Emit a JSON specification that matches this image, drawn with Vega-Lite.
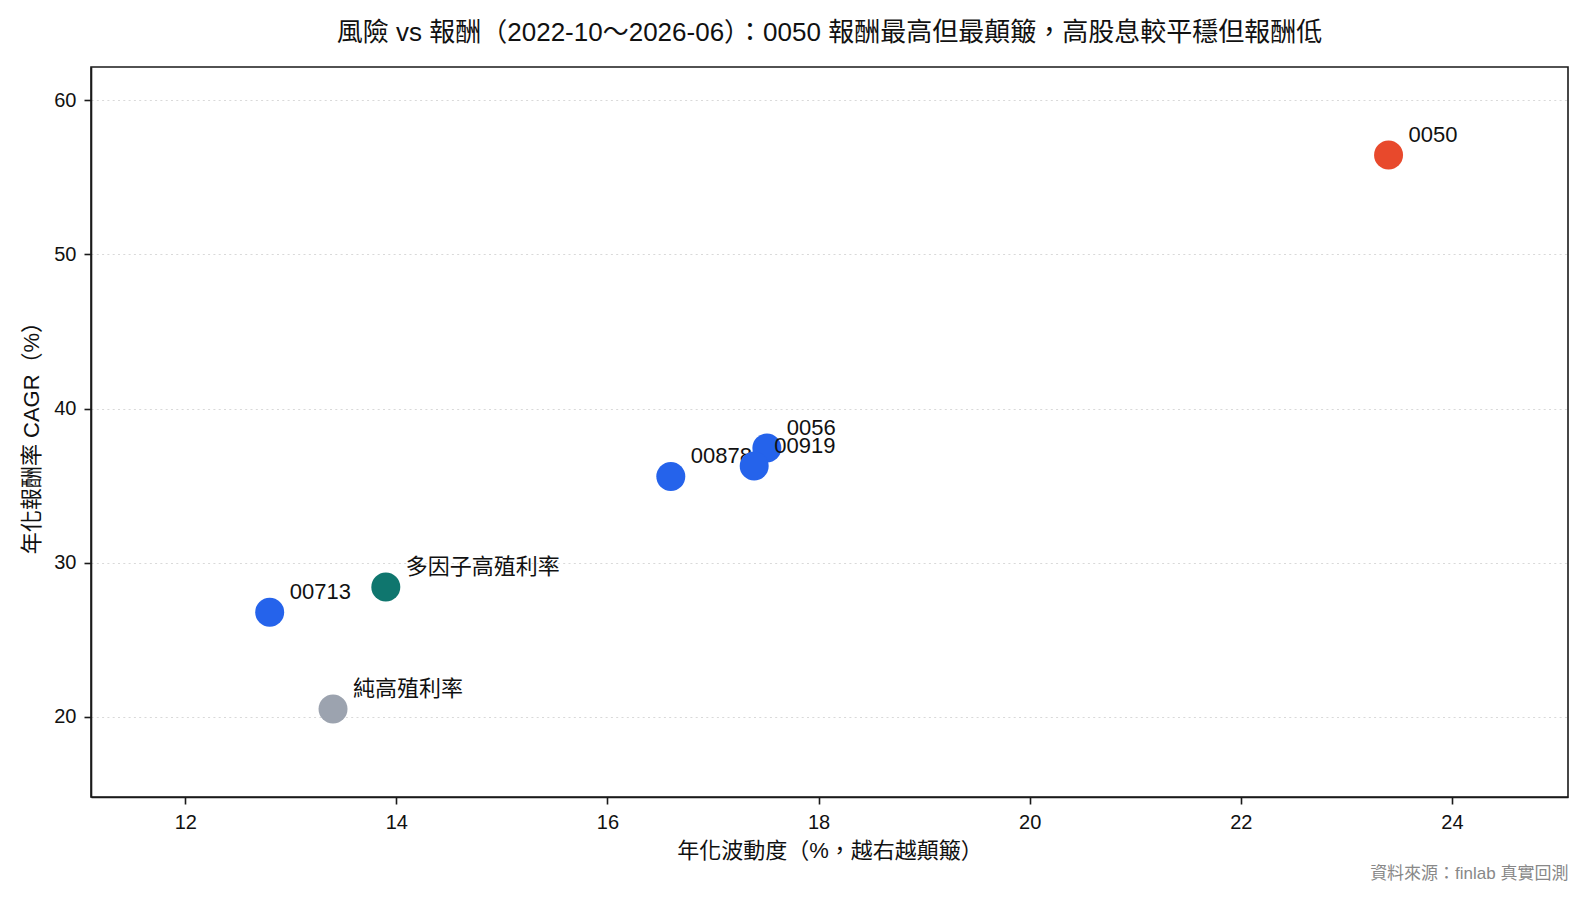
{
  "$schema": "https://vega.github.io/schema/vega-lite/v6.json",
  "description": "Risk vs return scatter, 2022-10 to 2026-06",
  "width": 1477,
  "height": 730,
  "autosize": {"type": "none"},
  "padding": {"left": 91, "top": 67, "right": 24, "bottom": 102},
  "background": "white",
  "title": {
    "text": "風險 vs 報酬（2022-10～2026-06）：0050 報酬最高但最顛簸，高股息較平穩但報酬低",
    "font": "Liberation Sans, Noto Sans CJK TC",
    "fontSize": 26,
    "fontWeight": "normal",
    "color": "#111",
    "anchor": "middle",
    "offset": 21
  },
  "config": {
    "view": {"stroke": "#1a1a1a", "strokeWidth": 1.6},
    "font": "Liberation Sans, Noto Sans CJK TC",
    "axis": {
      "labelFont": "Liberation Sans, Noto Sans CJK TC",
      "titleFont": "Liberation Sans, Noto Sans CJK TC",
      "labelFontSize": 20,
      "titleFontSize": 22,
      "titleFontWeight": "normal",
      "labelColor": "#111",
      "titleColor": "#111",
      "domainColor": "#1a1a1a",
      "domainWidth": 1.6,
      "tickColor": "#1a1a1a",
      "tickWidth": 1.6,
      "tickSize": 7,
      "labelPadding": 8,
      "gridColor": "#d9d9d9",
      "gridDash": [2, 3.3],
      "gridWidth": 1
    }
  },
  "data": {
    "values": [
      {"name": "0050", "kind": "benchmark", "vol": 23.40, "cagr": 56.45},
      {"name": "0056", "kind": "etf", "vol": 17.51, "cagr": 37.45},
      {"name": "00878", "kind": "etf", "vol": 16.60, "cagr": 35.60},
      {"name": "00919", "kind": "etf", "vol": 17.39, "cagr": 36.28},
      {"name": "00713", "kind": "etf", "vol": 12.80, "cagr": 26.80},
      {"name": "多因子高殖利率", "kind": "multi", "vol": 13.90, "cagr": 28.43},
      {"name": "純高殖利率", "kind": "pure", "vol": 13.40, "cagr": 20.52}
    ]
  },
  "encoding": {
    "y": {
      "field": "cagr",
      "type": "quantitative",
      "scale": {"domain": [14.81, 62.16], "nice": false, "zero": false},
      "axis": {
        "title": "年化報酬率 CAGR（%）",
        "values": [20, 30, 40, 50, 60],
        "titlePadding": 10
      }
    }
  },
  "layer": [
    {
      "transform": [{"filter": "datum.name === '00878'"}],
      "mark": {"type": "text", "align": "left", "baseline": "middle", "dx": 20, "dy": -20, "fontSize": 22, "color": "#111"},
      "encoding": {
        "x": {"field": "vol", "type": "quantitative", "scale": {"domain": [11.107, 25.10], "nice": false, "zero": false}, "axis": null},
        "text": {"field": "name"}
      }
    },
    {
      "mark": {"type": "circle", "size": 840, "opacity": 1},
      "encoding": {
        "x": {
          "field": "vol",
          "type": "quantitative",
          "scale": {"domain": [11.107, 25.10], "nice": false, "zero": false},
          "axis": {
            "title": "年化波動度（%，越右越顛簸）",
            "values": [12, 14, 16, 18, 20, 22, 24],
            "titlePadding": 8
          }
        },
        "color": {
          "field": "kind",
          "type": "nominal",
          "scale": {
            "domain": ["benchmark", "etf", "multi", "pure"],
            "range": ["#e8492c", "#2563eb", "#0f766e", "#9ca3af"]
          },
          "legend": null
        },
        "tooltip": [
          {"field": "name", "type": "nominal"},
          {"field": "vol", "type": "quantitative", "title": "年化波動度"},
          {"field": "cagr", "type": "quantitative", "title": "CAGR"}
        ]
      }
    },
    {
      "transform": [{"filter": "datum.name !== '00878'"}],
      "mark": {"type": "text", "align": "left", "baseline": "middle", "dx": 20, "dy": -20, "fontSize": 22, "color": "#111"},
      "encoding": {
        "x": {
          "field": "vol",
          "type": "quantitative",
          "scale": {"domain": [11.107, 25.10], "nice": false, "zero": false},
          "axis": {
            "orient": "bottom",
            "title": "資料來源：finlab 真實回測",
            "titleAnchor": "end",
            "titleFontSize": 17,
            "titleColor": "#888",
            "labels": false,
            "ticks": false,
            "domain": false,
            "grid": false,
            "offset": 64
          }
        },
        "text": {"field": "name"}
      }
    }
  ],
  "resolve": {"axis": {"x": "independent"}}
}
